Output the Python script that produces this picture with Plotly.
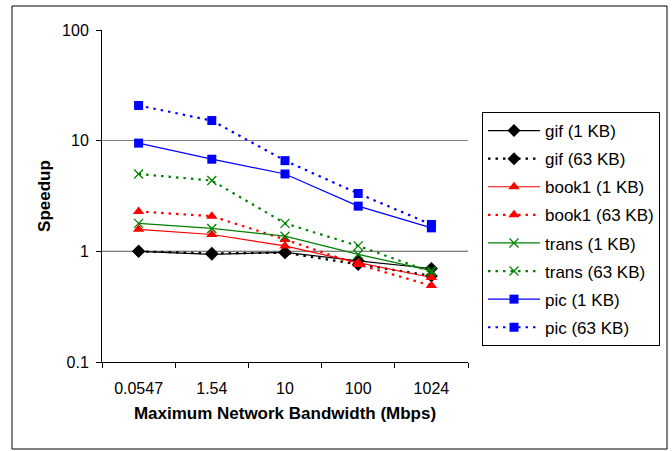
import plotly.graph_objects as go

bandwidth = ["0.0547", "1.54", "10", "100", "1024"]

gif_1kb = [1.00, 0.94, 0.98, 0.82, 0.70]
gif_63kb = [1.00, 0.96, 0.97, 0.76, 0.60]
book1_1kb = [1.58, 1.42, 1.12, 0.79, 0.58]
book1_63kb = [2.29, 2.08, 1.28, 0.76, 0.49]
trans_1kb = [1.79, 1.61, 1.37, 0.94, 0.67]
trans_63kb = [5.0, 4.36, 1.79, 1.12, 0.65]
pic_1kb = [9.5, 6.8, 5.0, 2.56, 1.63]
pic_63kb = [20.8, 15.2, 6.6, 3.33, 1.75]

series = [
    ("gif (1 KB)", gif_1kb, "#000000", "solid", "diamond"),
    ("gif (63 KB)", gif_63kb, "#000000", "dot", "diamond"),
    ("book1 (1 KB)", book1_1kb, "#FF0000", "solid", "triangle-up"),
    ("book1 (63 KB)", book1_63kb, "#FF0000", "dot", "triangle-up"),
    ("trans (1 KB)", trans_1kb, "#008000", "solid", "x-thin"),
    ("trans (63 KB)", trans_63kb, "#008000", "dot", "x-thin"),
    ("pic (1 KB)", pic_1kb, "#0000FF", "solid", "square"),
    ("pic (63 KB)", pic_63kb, "#0000FF", "dot", "square"),
]

FONT = "Liberation Sans, Arial, sans-serif"

fig = go.Figure()
for i, (name, vals, color, style, sym) in enumerate(series):
    if style == "solid":
        line = dict(color=color, width=1.2)
    else:
        line = dict(color=color, width=2.2, dash="2.5px,5px")
    if sym == "x-thin":
        marker = dict(symbol=sym, size=9, color=color, line=dict(color=color, width=1.3))
    else:
        size = {"diamond": 10, "triangle-up": 10, "square": 9}[sym]
        marker = dict(symbol=sym, size=size, color=color, line=dict(width=0))
    fig.add_trace(go.Scatter(
        x=bandwidth, y=vals, name=name, mode="lines+markers",
        line=line, marker=marker, legendgroup="g%d" % i,
    ))

fig.update_layout(
    width=672, height=451,
    margin=dict(l=102, r=204, t=30, b=89),
    paper_bgcolor="white", plot_bgcolor="white",
    font=dict(family=FONT, color="black", size=16),
    showlegend=True,
    legend=dict(
        x=(482 - 102) / 366, y=(362 - 112) / 332, xanchor="left", yanchor="top",
        bordercolor="black", borderwidth=1,
        font=dict(family=FONT, size=17, color="black"),
        itemwidth=52, tracegroupgap=3,
        bgcolor="white",
    ),
    xaxis=dict(
        type="category", range=[-0.5, 4.5],
        showline=True, linecolor="black", linewidth=1,
        ticks="outside", ticklen=5, tickcolor="black", tickson="boundaries",
        showgrid=False, zeroline=False,
        tickfont=dict(family=FONT, size=16),
        ticklabelstandoff=12,
        title=dict(text="<b>Maximum Network Bandwidth (Mbps)</b>",
                   font=dict(family=FONT, size=17), standoff=10),
    ),
    yaxis=dict(
        type="log", range=[-1, 2],
        tickvals=[0.1, 1, 10, 100], ticktext=["0.1", "1", "10", "100"],
        showline=True, linecolor="black", linewidth=1,
        ticks="outside", ticklen=5, tickcolor="black",
        showgrid=True, gridcolor="#808080", gridwidth=1, zeroline=False,
        tickfont=dict(family=FONT, size=16),
        ticklabelstandoff=4,
        title=dict(text="<b>Speedup</b>", font=dict(family=FONT, size=17), standoff=7),
    ),
    shapes=[
        dict(type="line", xref="paper", yref="y", x0=0, x1=1, y0=1, y1=1,
             line=dict(color="black", width=1), layer="below"),
        dict(type="rect", xref="paper", yref="paper",
             x0=(12 - 102) / 366, x1=(667 - 102) / 366,
             y0=(362 - 449) / 332, y1=(362 - 6) / 332,
             line=dict(color="black", width=1)),
    ],
)

fig.write_html("out.html", config={"displayModeBar": False},
               post_script="document.body.style.margin='0';")
